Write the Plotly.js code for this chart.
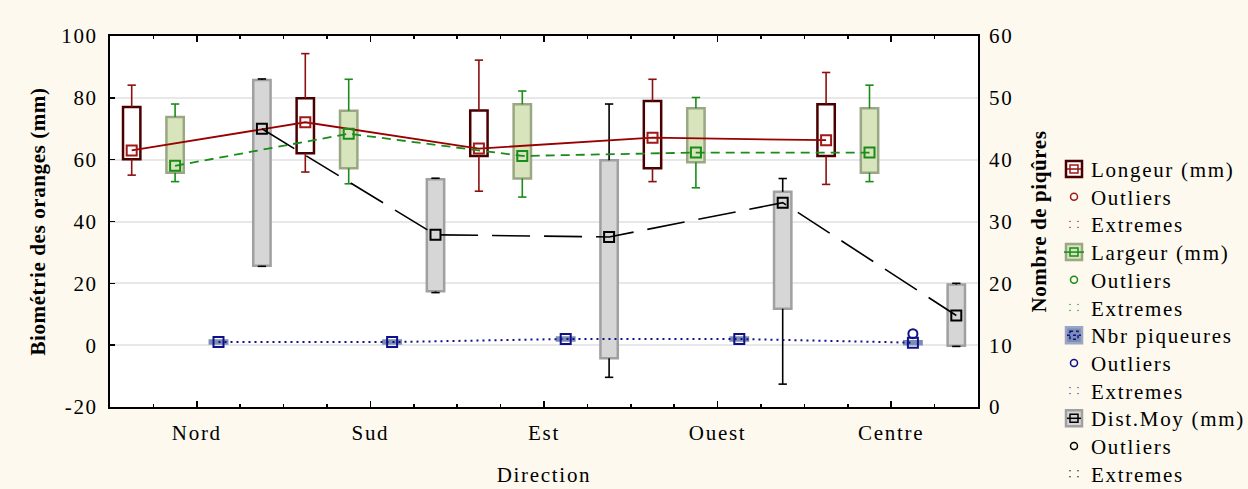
<!DOCTYPE html>
<html><head><meta charset="utf-8">
<script src="https://cdn.plot.ly/plotly-3.0.1.min.js"></script>
<style>
body{margin:0;background:#fdf9ee}
#chart .xtick text, #chart .ytick text, #chart .y2tick text, #chart .g-xtitle text, #chart .annotation-text {letter-spacing:1.7px}
#chart .g-ytitle text, #chart .g-y2title text {letter-spacing:0.6px}
</style>
</head><body><div id="chart" style="width:1248px;height:489px"></div>
<script>
const directions = ['Nord', 'Sud', 'Est', 'Ouest', 'Centre'];
const leftTicks = [-20, 0, 20, 40, 60, 80, 100];

// Longeur (mm) - left axis
const longMean  = [63.0, 72.1, 63.6, 67.1, 66.3];
const longBoxLo = [60.1, 62.1, 61.2, 57.2, 61.2];
const longBoxHi = [77.0, 79.9, 75.9, 79.0, 77.9];
const longWhLo  = [55.0, 56.0, 49.8, 52.9, 52.0];
const longWhHi  = [84.1, 94.3, 92.2, 86.0, 88.2];

// Largeur (mm) - left axis
const largMean  = [58.0, 68.4, 61.2, 62.3, 62.3];
const largBoxLo = [55.8, 57.2, 53.9, 59.2, 55.8];
const largBoxHi = [73.8, 75.8, 77.9, 76.6, 76.6];
const largWhLo  = [52.9, 52.2, 47.9, 50.9, 52.9];
const largWhHi  = [78.0, 86.0, 82.2, 80.1, 84.1];

// Nbr piqueures - right axis
const nbrMean    = [10.5, 10.5, 11.0, 11.0, 10.4];
const nbrBoxLo   = [10.25, 10.25, 10.75, 10.75, 10.15];
const nbrBoxHi   = [10.75, 10.75, 11.25, 11.25, 10.65];
const nbrOutlier = [null, null, null, null, 11.85];

// Dist.Moy (mm) - left axis
const distMean  = [70.0, 35.7, 35.0, 46.1, 9.6];
const distBoxLo = [25.7, 17.4, -4.2, 11.8, -0.2];
const distBoxHi = [85.8, 53.7, 59.8, 49.6, 19.6];
const distWhLo  = [25.5, 17.0, -10.4, -12.6, -0.4];
const distWhHi  = [86.1, 54.0, 78.0, 53.9, 20.0];

// Legend labels
const seriesNames = ['Longeur (mm)', 'Largeur (mm)', 'Nbr piqueures', 'Dist.Moy (mm)'];
const subLabels = ['Outliers', 'Extremes'];

const FONT = 'Liberation Serif, Times New Roman, serif';
const offsets = [-0.375, -0.125, 0.125, 0.375];
const BOXW = 0.1, CAP = 0.024;

const RED = '#8b1010', GREEN = '#1a8c1a', NAVY = '#10108c', BLACK = '#000000';
const styles = [
  {fill: '#ffffff', edge: '#4a0000', line: RED,   mark: '#a01818'},
  {fill: '#d8e4bc', edge: '#9aa784', line: GREEN, mark: GREEN},
  {fill: '#7c8db3', edge: '#9aa6c4', line: NAVY,  mark: NAVY},
  {fill: '#d6d6d6', edge: '#a0a0a0', line: BLACK, mark: BLACK}
];

function xs(k) { return directions.map((_, i) => i + offsets[k]); }

function boxTrace(k, lo, hi, yaxis, edgeOverride) {
  return {
    type: 'bar', name: seriesNames[k], x: xs(k), base: lo, y: hi.map((h, i) => h - lo[i]),
    width: BOXW, yaxis: yaxis || 'y', hoverinfo: 'skip', showlegend: false,
    marker: {color: styles[k].fill, line: {color: edgeOverride || styles[k].edge, width: 2.5}}
  };
}
function whiskerTrace(k, bLo, bHi, wLo, wHi) {
  const x = [], y = [];
  xs(k).forEach((xi, i) => {
    x.push(xi, xi, null, xi - CAP, xi + CAP, null, xi, xi, null, xi - CAP, xi + CAP, null);
    y.push(bHi[i], wHi[i], null, wHi[i], wHi[i], null, bLo[i], wLo[i], null, wLo[i], wLo[i], null);
  });
  return {type: 'scatter', mode: 'lines', x: x, y: y, showlegend: false,
          hoverinfo: 'skip', line: {color: styles[k].line, width: 1.6}};
}
function meanTrace(k, m, dash, width, yaxis) {
  const c = styles[k].mark;
  return {type: 'scatter', mode: 'lines+markers', name: seriesNames[k], x: xs(k), y: m, yaxis: yaxis || 'y',
          showlegend: false, line: {color: k === 0 ? '#990000' : styles[k].line, dash: dash, width: width},
          marker: {symbol: 'square-open', size: 10, color: c, line: {color: c, width: 2}}};
}

const data = [
  boxTrace(0, longBoxLo, longBoxHi),
  boxTrace(1, largBoxLo, largBoxHi),
  boxTrace(2, nbrBoxLo, nbrBoxHi, 'y2', '#7c8db3'),
  boxTrace(3, distBoxLo, distBoxHi),
  whiskerTrace(0, longBoxLo, longBoxHi, longWhLo, longWhHi),
  whiskerTrace(1, largBoxLo, largBoxHi, largWhLo, largWhHi),
  whiskerTrace(3, distBoxLo, distBoxHi, distWhLo, distWhHi),
  meanTrace(0, longMean, 'solid', 1.8),
  meanTrace(1, largMean, '9px,6px', 1.8),
  meanTrace(2, nbrMean, '2px,4px', 2, 'y2'),
  meanTrace(3, distMean, '38px,14px', 1.6),
  {type: 'scatter', mode: 'markers', name: 'Outliers', x: xs(2), y: nbrOutlier, yaxis: 'y2', showlegend: false,
   marker: {symbol: 'circle-open', size: 9, color: NAVY, line: {width: 2, color: NAVY}}}
];

// ---- manual legend (drawn in paper coordinates) ----
const L = 110, T = 36, W = 868, H = 371;
const px = p => (p - L) / W;
const py = p => (T + H - p) / H;
const annotations = [];
const shapes = [];
const ROW0 = 169, ROWH = 27.7, ICX = 1074, TXT = 1090;
styles.forEach((s, k) => {
  const rows = [ROW0 + (3 * k) * ROWH, ROW0 + (3 * k + 1) * ROWH, ROW0 + (3 * k + 2) * ROWH];
  const labels = [seriesNames[k], subLabels[0], subLabels[1]];
  labels.forEach((t, j) => annotations.push({
    xref: 'paper', yref: 'paper', x: px(TXT), y: py(rows[j] + 1), xanchor: 'left', yanchor: 'middle',
    align: 'left', borderpad: 0,
    text: t, showarrow: false, font: {family: FONT, size: 21, color: '#000'}
  }));
  const c = rows[0];
  shapes.push({type: 'rect', xref: 'paper', yref: 'paper', x0: px(ICX - 8), x1: px(ICX + 8), y0: py(c - 8), y1: py(c + 8),
               fillcolor: s.fill, line: {color: s.edge, width: 2.5}});
  shapes.push({type: 'line', xref: 'paper', yref: 'paper', x0: px(ICX - (k === 1 ? 10 : 7)), x1: px(ICX + (k === 1 ? 10 : 7)), y0: py(c), y1: py(c),
               line: {color: s.line, width: 1.5, dash: k === 2 ? 'dot' : 'solid'}});
  shapes.push({type: 'rect', xref: 'paper', yref: 'paper', x0: px(ICX - 4), x1: px(ICX + 4), y0: py(c - 4), y1: py(c + 4),
               line: {color: s.mark, width: 1.5, dash: k === 2 ? 'dot' : 'solid'}});
  const o = rows[1];
  shapes.push({type: 'circle', xref: 'paper', yref: 'paper', x0: px(ICX - 3.5), x1: px(ICX + 3.5), y0: py(o - 3.5), y1: py(o + 3.5),
               line: {color: s.mark, width: 1.5}});
  const e = rows[2];
  [[-4, -3], [-4, 3], [4, -3], [4, 3]].forEach(([dx, dy]) => shapes.push({
    type: 'circle', xref: 'paper', yref: 'paper', x0: px(ICX + dx - 0.7), x1: px(ICX + dx + 0.7),
    y0: py(e + dy - 0.7), y1: py(e + dy + 0.7), fillcolor: s.line, line: {width: 0}}));
});

const layout = {
  width: 1248, height: 489,
  paper_bgcolor: '#fdf9ee', plot_bgcolor: '#ffffff',
  margin: {l: L, r: 1248 - L - W, t: T, b: 489 - T - H},
  font: {family: FONT, size: 21, color: '#000'},
  barmode: 'overlay',
  showlegend: false,
  xaxis: {
    range: [-0.5, 4.5], tickvals: [0, 1, 2, 3, 4], ticktext: directions,
    ticks: 'inside', ticklen: 6, tickwidth: 1.5, tickcolor: '#000',
    showgrid: false, zeroline: false, showline: true, linecolor: '#000', linewidth: 2,
    mirror: 'ticks', ticklabelstandoff: 6,
    minor: {dtick: 0.25, tick0: 0, ticks: 'inside', ticklen: 3, tickcolor: '#000', showgrid: false},
    title: {text: 'Direction', font: {family: FONT, size: 21}, standoff: 23}
  },
  yaxis: {
    range: [-20, 100], tickvals: leftTicks, ticktext: leftTicks.map(String),
    ticks: 'inside', ticklen: 5, tickwidth: 1.5, tickcolor: '#000',
    showgrid: true, gridcolor: '#e8e8e8', gridwidth: 2, zeroline: false,
    showline: true, linecolor: '#000', linewidth: 2, mirror: true, ticklabelstandoff: 6,
    title: {text: '<b>Biométrie des oranges (mm)</b>', font: {family: FONT, size: 21}, standoff: 15}
  },
  yaxis2: {
    overlaying: 'y', side: 'right', range: [0, 60], dtick: 10, ticks: '',
    showgrid: false, zeroline: false, showline: false, ticklabelstandoff: 10,
    title: {text: '<b>Nombre de piqûres</b>', font: {family: FONT, size: 21}, standoff: 22}
  },
  annotations: annotations,
  shapes: shapes
};

Plotly.newPlot('chart', data, layout, {displayModeBar: false, staticPlot: true});
</script>
</body></html>
